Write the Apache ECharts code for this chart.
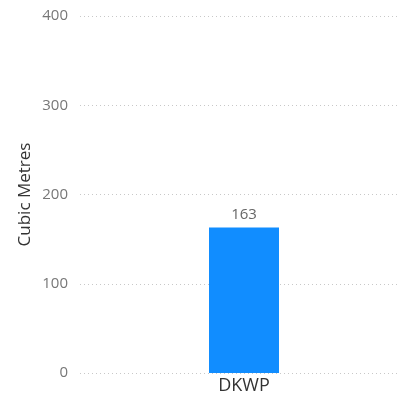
<!DOCTYPE html>
<html><head><meta charset="utf-8">
<script src="https://cdn.jsdelivr.net/npm/echarts@6/dist/echarts.min.js"></script>
<style>html,body{margin:0;padding:0;background:#fff}#c{width:400px;height:401px}</style>
</head><body><div id="c"></div>
<script>
var categories = ['DKWP'];
var values = [163];
var yTicks = [0, 100, 200, 300, 400];

var chart = echarts.init(document.getElementById('c'));
chart.setOption({
  animation: false,
  grid: {left: 80, right: -8, top: 16, bottom: 28, outerBoundsMode: 'none', containLabel: false},
  xAxis: {
    type: 'category', data: categories,
    axisLine: {show: false}, axisTick: {show: false},
    axisLabel: {color: '#333', fontSize: 18, fontFamily: 'Open Sans', margin: 4}
  },
  yAxis: {
    type: 'value', min: yTicks[0], max: yTicks[yTicks.length-1], interval: 100,
    name: 'Cubic Metres', nameLocation: 'middle', nameGap: 46, nameMoveOverlap: false,
    nameTextStyle: {color: '#333', fontSize: 17, fontFamily: 'Open Sans'},
    axisLabel: {color: '#777', fontSize: 15, fontFamily: 'Open Sans', margin: 12},
    splitLine: {lineStyle: {color: '#c8c8c8', type: [1, 3], width: 1}}
  },
  series: [{
    type: 'bar', data: values, barWidth: 70,
    itemStyle: {color: '#118DFF'},
    label: {show: true, position: 'top', color: '#666', fontSize: 15, fontFamily: 'Open Sans', distance: 5}
  }]
});
</script></body></html>
